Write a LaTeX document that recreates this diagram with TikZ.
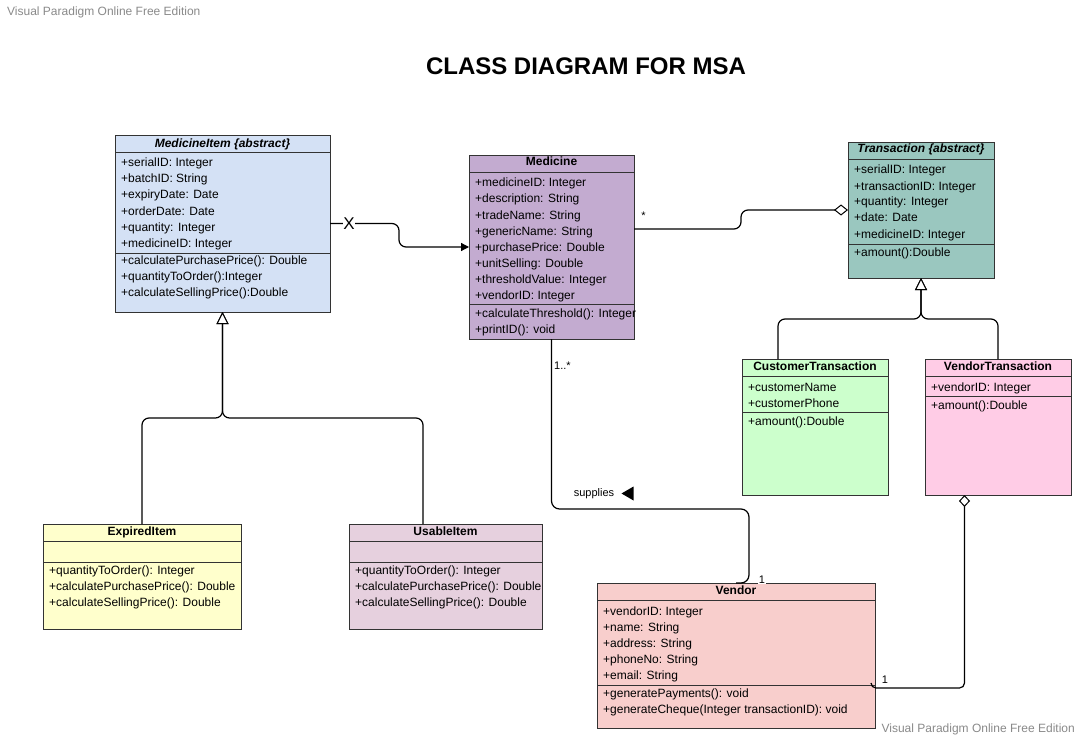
\documentclass[tikz,border=0pt]{standalone}
\usepackage{fontspec}
\setmainfont{Liberation Sans}
\usetikzlibrary{arrows.meta}
\definecolor{cMI}{HTML}{D4E1F5}
\definecolor{cMed}{HTML}{C3ABD0}
\definecolor{cTr}{HTML}{9AC7BF}
\definecolor{cCT}{HTML}{CCFFCC}
\definecolor{cVT}{HTML}{FFCCE6}
\definecolor{cEI}{HTML}{FFFFCC}
\definecolor{cUI}{HTML}{E6D0DE}
\definecolor{cV}{HTML}{F8CECC}
\definecolor{cWM}{HTML}{8A8A8A}
\definecolor{cBorder}{HTML}{333333}
\newcommand\rowlist[4]{%
  \foreach \t [count=\k from 0] in {#4}{\node[row] (#1\k) at (#2,{#3+16*\k}) {\t};}}
\newcommand\umlbox[7]{% name, x1, y1, x2, y2, fill, header sep y
  \node[classbox, fill=#6, minimum width={#4-#2}, minimum height={#5-#3}] (#1) at ({(#2+#4)/2},{(#3+#5)/2}) {};
  \draw[sepline] (#2,#7) -- (#4,#7);}
\begin{document}
\begin{tikzpicture}[x=1pt,y=-1pt,
  classbox/.style={draw=cBorder, line width=0.9pt, inner sep=0pt, outer sep=0pt, rectangle},
  sepline/.style={draw=cBorder, line width=0.9pt},
  row/.style={anchor=base west, inner sep=0pt, font=\fontsize{12}{14}\selectfont},
  head/.style={anchor=base, inner sep=0pt, font=\bfseries\fontsize{12}{14}\selectfont},
  ahead/.style={anchor=base, inner sep=0pt, font=\bfseries\itshape\fontsize{12}{14}\selectfont},
  lab/.style={inner sep=0pt, font=\fontsize{11}{13}\selectfont},
  conn/.style={draw=black, line width=1.2pt},
  wm/.style={inner sep=0pt, text=cWM, font=\fontsize{12}{14}\selectfont}]
\useasboundingbox (0,0) rectangle (1081,738);
\fill[white] (0,0) rectangle (1081,738);

\node[wm, anchor=west] (wm1) at (7,12) {Visual Paradigm Online Free Edition};
\node[wm, anchor=east] (wm2) at (1075,729) {Visual Paradigm Online Free Edition};
\node[inner sep=0pt, font=\bfseries\fontsize{24}{28}\selectfont] (title) at (586,66) {CLASS DIAGRAM FOR MSA};

% MedicineItem
\umlbox{mi}{115}{135}{330}{312}{cMI}{152}
\draw[sepline] (115,253) -- (330,253);
\node[ahead] (mih) at (222.5,148) {MedicineItem \{abstract\}};
\rowlist{mia}{121}{167}{+serialID: Integer,+batchID: String,+expiryDate: Date,+orderDate: Date,+quantity: Integer,+medicineID: Integer}
\rowlist{mim}{121}{264}{+calculatePurchasePrice(): Double,+quantityToOrder():Integer,+calculateSellingPrice():Double}

% Medicine
\umlbox{med}{469}{155}{634}{339}{cMed}{172}
\draw[sepline] (469,304) -- (634,304);
\node[head] (medh) at (551.5,166) {Medicine};
\rowlist{meda}{475}{187}{+medicineID: Integer,+description: String,+tradeName: String,+genericName: String,+purchasePrice: Double,+unitSelling: Double,+thresholdValue: Integer,+vendorID: Integer}
\rowlist{medm}{475}{317}{+calculateThreshold(): Integer,+printID(): void}

% Transaction
\umlbox{tr}{848}{142}{994}{278}{cTr}{159}
\draw[sepline] (848,244) -- (994,244);
\node[ahead] (trh) at (921,153) {Transaction \{abstract\}};
\rowlist{tra}{854}{174}{+serialID: Integer,+transactionID: Integer,+quantity: Integer,+date: Date,+medicineID: Integer}
\rowlist{trm}{854}{256}{+amount():Double}

% CustomerTransaction
\umlbox{ct}{742}{359}{888}{495}{cCT}{376}
\draw[sepline] (742,412) -- (888,412);
\node[head] (cth) at (815,370) {CustomerTransaction};
\rowlist{cta}{748}{391}{+customerName,+customerPhone}
\rowlist{ctm}{748}{425}{+amount():Double}

% VendorTransaction
\umlbox{vt}{925}{359}{1071}{495}{cVT}{376}
\draw[sepline] (925,396) -- (1071,396);
\node[head] (vth) at (998,370) {VendorTransaction};
\rowlist{vta}{931}{391}{+vendorID: Integer}
\rowlist{vtm}{931}{409}{+amount():Double}

% ExpiredItem
\umlbox{ei}{43}{524}{241}{629}{cEI}{541}
\draw[sepline] (43,562) -- (241,562);
\node[head] (eih) at (142,535) {ExpiredItem};
\rowlist{eim}{49}{574}{+quantityToOrder(): Integer,+calculatePurchasePrice(): Double,+calculateSellingPrice(): Double}

% UsableItem
\umlbox{ui}{349}{524}{542}{629}{cUI}{541}
\draw[sepline] (349,562) -- (542,562);
\node[head] (uih) at (445.5,535) {UsableItem};
\rowlist{uim}{355}{574}{+quantityToOrder(): Integer,+calculatePurchasePrice(): Double,+calculateSellingPrice(): Double}

% Vendor
\umlbox{ven}{597}{583}{875}{728}{cV}{600}
\draw[sepline] (597,685) -- (875,685);
\node[head] (venh) at (736,594) {Vendor};
\rowlist{vena}{603}{615}{+vendorID: Integer,+name: String,+address: String,+phoneNo: String,+email: String}
\rowlist{venm}{603}{697}{+generatePayments(): void,+generateCheque(Integer transactionID): void}

% MedicineItem -> Medicine
\draw[conn, rounded corners=7, -{Triangle[length=8pt,width=8pt]}] (mi.east) -- (399,223.5) -- (399,247) -- (med.west);
\node[inner sep=0.5pt, fill=white, font=\fontsize{17}{17}\selectfont] (xm) at (349,224) {X};

% Medicine -- Transaction (aggregation)
\draw[conn, rounded corners=7, -{Diamond[open, fill=white, length=14pt, width=11pt, line width=1pt]}] ([yshift=18pt]med.east) -- (741,229) -- (741,210) -- (tr.west);
\node[lab, anchor=base] (star) at (643.5,219) {*};

% Medicine -- Vendor (supplies)
\draw[conn, rounded corners=8] (med.south) -- (551.5,509) -- (749,509) -- (749,583) -- (ven.north);
\node[lab, anchor=base west] (m1) at (554,369) {1..*};
\node[lab] (sup) at (594,494) {supplies};
\fill[black] (621.5,493.5) -- (633.5,486.5) -- (633.5,500.5) -- cycle;
\node[lab, anchor=base, fill=white, inner sep=0.5pt] (v1) at (762,583) {1};

% Generalization MedicineItem
\draw[conn, rounded corners=7, -{Triangle[open, fill=white, length=12pt, width=12pt, line width=1pt]}] (ei.north) -- (142,418) -- (222.5,418) -- (mi.south);
\draw[conn, rounded corners=7, -{Triangle[open, fill=white, length=12pt, width=12pt, line width=1pt]}] ([xshift=-22.5pt]ui.north) -- (423,418) -- (222.5,418) -- (mi.south);

% Generalization Transaction
\draw[conn, rounded corners=7, -{Triangle[open, fill=white, length=12pt, width=12pt, line width=1pt]}] ([xshift=-37pt]ct.north) -- (778,319) -- (921,319) -- (tr.south);
\draw[conn, rounded corners=7, -{Triangle[open, fill=white, length=12pt, width=12pt, line width=1pt]}] (vt.north) -- (998,319) -- (921,319) -- (tr.south);

% Vendor -- VendorTransaction (aggregation)
\coordinate (vhook) at ([xshift=-4pt,yshift=-27.5pt]ven.east);
\draw[conn, rounded corners=5, -{Diamond[open, fill=white, length=12pt, width=11pt, line width=1pt]}] (vhook) -- (871,688) -- (964.5,688) -- ([xshift=-33.5pt]vt.south);
\node[lab, anchor=base] (vt1) at (885,683) {1};
\end{tikzpicture}
\end{document}
